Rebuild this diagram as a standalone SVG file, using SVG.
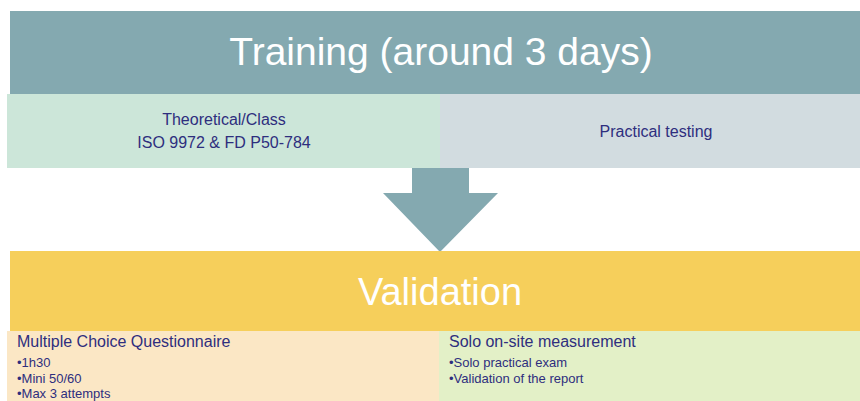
<svg xmlns="http://www.w3.org/2000/svg" width="860" height="401" viewBox="0 0 860 401">
<style>
text{font-family:"Liberation Sans",Arial,sans-serif}
.big{fill:#ffffff;font-size:39px;text-anchor:middle}
.mid{fill:#2E2E7E;font-size:16px}
.c{text-anchor:middle}
.sm{fill:#2E2E7E;font-size:13px}
</style>
<rect width="860" height="401" fill="#ffffff"/>
<g id="training">
<rect x="10" y="11" width="850" height="83" fill="#84A9B0"/>
<text class="big" x="441" y="65">Training (around 3 days)</text>
</g>
<g id="theoretical">
<rect x="7" y="94" width="433" height="74" fill="#CCE6D9"/>
<text class="mid c" x="224" y="125">Theoretical/Class</text>
<text class="mid c" x="224" y="148">ISO 9972 &amp; FD P50-784</text>
</g>
<g id="practical">
<rect x="440" y="94" width="420" height="74" fill="#D2DCE0"/>
<text class="mid c" x="656" y="137">Practical testing</text>
</g>
<g id="connectors">
<polygon points="412,168 469,168 469,193 498,193 440,252 383,193 412,193" fill="#84A9B0"/>
</g>
<g id="validation">
<rect x="10" y="251" width="850" height="80" fill="#F6CF5B"/>
<text class="big" x="440" y="305" style="font-size:38px">Validation</text>
</g>
<g id="mcq">
<rect x="7" y="331" width="432" height="70" fill="#FBE7C5"/>
<text class="mid" x="17" y="347">Multiple Choice Questionnaire</text>
<text class="sm" x="17" y="367">•1h30</text>
<text class="sm" x="17" y="383">•Mini 50/60</text>
<text class="sm" x="17" y="398">•Max 3 attempts</text>
</g>
<g id="solo">
<rect x="439" y="331" width="421" height="70" fill="#E3F0C7"/>
<text class="mid" x="449" y="347">Solo on-site measurement</text>
<text class="sm" x="449" y="367">•Solo practical exam</text>
<text class="sm" x="449" y="383">•Validation of the report</text>
</g>
</svg>
